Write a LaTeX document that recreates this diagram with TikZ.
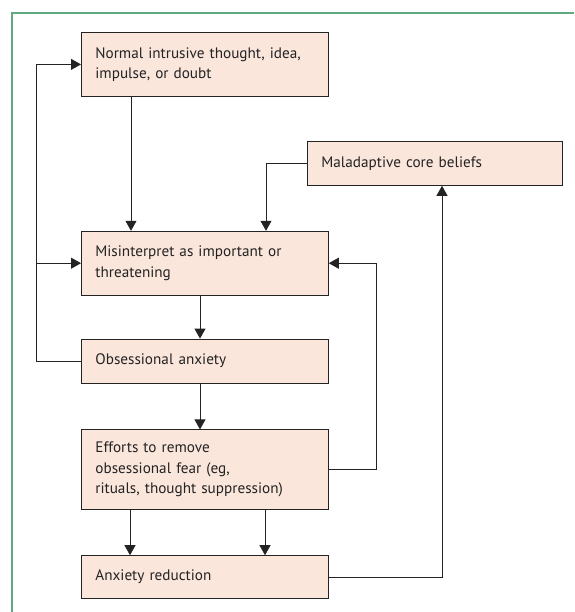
\documentclass[tikz,border=0pt]{standalone}
\usepackage{fontspec}
\setmainfont[WordSpace=0.85]{PT Sans}
\usetikzlibrary{positioning,arrows.meta}
\definecolor{boxfill}{RGB}{251,230,220}
\definecolor{framegreen}{RGB}{96,170,130}
\definecolor{linegray}{RGB}{35,35,35}

\begin{document}
\begin{tikzpicture}[x=1pt,y=1pt,->,>={Triangle[length=10pt,width=11pt]},
			line width=0.8pt,draw=linegray,
			main node/.style={rectangle,draw=linegray,fill=boxfill,minimum width=247pt,
				text width=219pt,inner xsep=14pt,align=left,text=linegray,
				font=\fontsize{15.2}{20.5}\selectfont}]

		\useasboundingbox (0,0) rectangle (574,-612);
		\draw[-,framegreen,line width=1.3pt] (12,-612) -- (12,-13) -- (574,-13);

		\node[main node,minimum height=64pt,anchor=north west] (1) at (81,-32) {Normal intrusive thought, idea,\\impulse, or doubt};
		\node[main node,minimum height=64pt] (2) [below=134pt of 1] {Misinterpret as important or\\threatening};
		\node[main node,minimum height=44pt] (3) [below=43pt of 2] {Obsessional anxiety};
		\node[main node,minimum height=80pt] (4) [below=46pt of 3] {Efforts to remove\\obsessional fear (eg,\\rituals, thought suppression)};
		\node[main node,minimum height=43pt] (5) [below=45pt of 4] {Anxiety reduction};
		\node[main node,minimum width=255pt,text width=227pt,minimum height=44pt,anchor=north west] (6) at (307,-141) {Maladaptive core beliefs};

		\path
		([xshift=50pt]1.south west) edge ([xshift=50pt]2.north west)
		([xshift=119pt]2.south west) edge ([xshift=119pt]3.north west)
		([xshift=119pt]3.south west) edge ([xshift=119pt]4.north west)
		([xshift=49pt]4.south west) edge ([xshift=49pt]5.north west)
		([xshift=184pt]4.south west) edge ([xshift=184pt]5.north west);

		\draw (3.west) -- ++(-45pt,0) coordinate (loop) |- (1.west);
		\draw (loop) |- (2.west);
		\draw (6.west) -| ([xshift=185pt]2.north west);
		\draw (4.east) -- ++(48pt,0) |- (2.east);
		\draw (5.east) -| ([xshift=135pt]6.south west);
	\end{tikzpicture}
\end{document}
